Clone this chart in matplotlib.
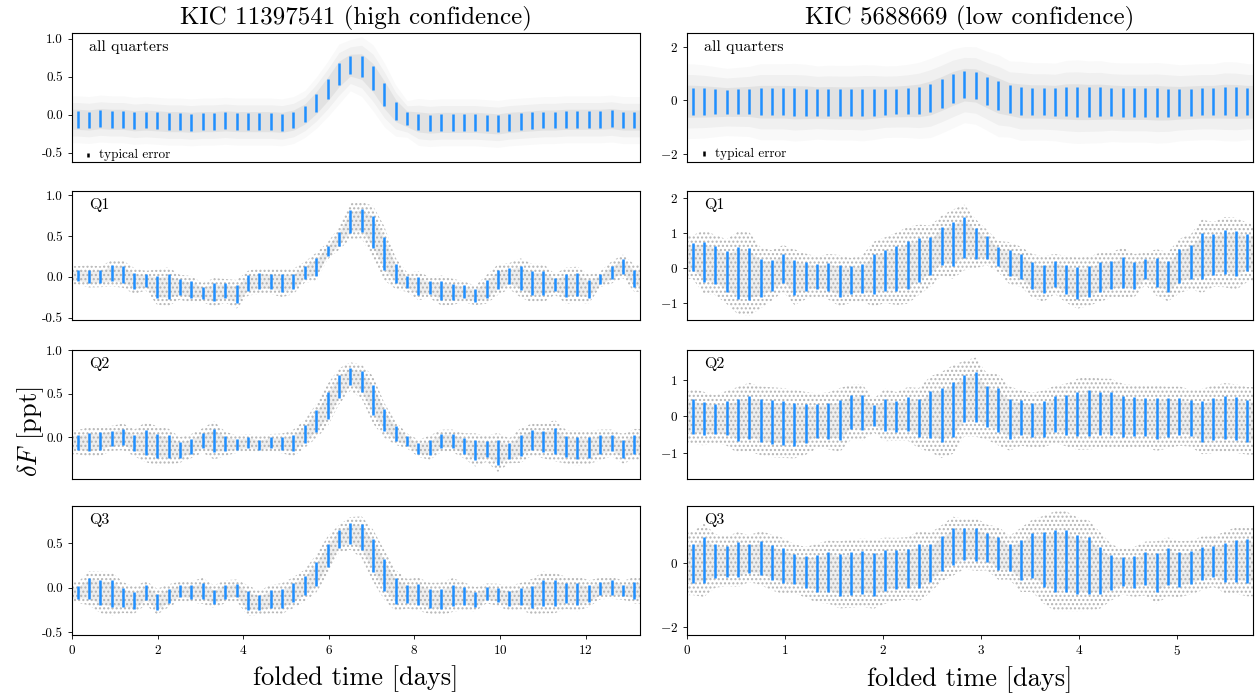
import numpy as np
import matplotlib
matplotlib.use("Agg")
import matplotlib.pyplot as plt

plt.rcParams['font.family'] = 'serif'
plt.rcParams['font.serif'] = ['cmr10', 'DejaVu Serif']
plt.rcParams['mathtext.fontset'] = 'cm'
plt.rcParams['axes.formatter.use_mathtext'] = True
plt.rcParams['hatch.linewidth'] = 1.0

# folding periods [days], 50 phase bins each
period_left = 13.27
period_right = 5.775
nbins = 50

titles = ["KIC 11397541 (high confidence)", "KIC 5688669 (low confidence)"]
row_labels = ["all quarters", "Q1", "Q2", "Q3"]

# ---- KIC 11397541 : bin means and spreads ----
L_all_mean = [-0.06, -0.07, -0.05, -0.06, -0.06, -0.08, -0.07, -0.08, -0.09, -0.09,
              -0.10, -0.09, -0.09, -0.08, -0.09, -0.09, -0.09, -0.09, -0.10, -0.07,
              0.01, 0.156, 0.335, 0.535, 0.65, 0.632, 0.485, 0.26, 0.053, -0.055,
              -0.095, -0.11, -0.10, -0.10, -0.10, -0.10, -0.11, -0.12, -0.10, -0.09,
              -0.08, -0.07, -0.07, -0.06, -0.06, -0.06, -0.06, -0.05, -0.07, -0.07]
L_all_err = [0.11] * 20 + [0.11, 0.12, 0.13, 0.14, 0.12, 0.14, 0.155, 0.15, 0.12, 0.086] + [0.11] * 20

L_q1_mean = [0.018, 0.004, 0.0, 0.043, 0.032, -0.055, -0.047, -0.128, -0.12, -0.128,
             -0.158, -0.194, -0.192, -0.172, -0.215, -0.079, -0.053, -0.057, -0.075, -0.057,
             0.057, 0.119, 0.316, 0.468, 0.68, 0.694, 0.55, 0.287, 0.04, -0.067,
             -0.111, -0.134, -0.168, -0.184, -0.184, -0.229, -0.154, -0.036, 0.008, -0.014,
             -0.079, -0.079, -0.093, -0.109, -0.097, -0.152, -0.032, 0.053, 0.128, -0.016]
L_q1_err = [0.07, 0.085, 0.08, 0.10, 0.105, 0.10, 0.075, 0.135, 0.148, 0.095,
            0.105, 0.073, 0.11, 0.09, 0.11, 0.095, 0.10, 0.097, 0.11, 0.097,
            0.08, 0.11, 0.065, 0.087, 0.138, 0.14, 0.20, 0.206, 0.12, 0.075,
            0.11, 0.08, 0.115, 0.10, 0.08, 0.075, 0.11, 0.117, 0.10, 0.15,
            0.148, 0.148, 0.08, 0.138, 0.138, 0.11, 0.06, 0.085, 0.09, 0.105]

L_q2_mean = [-0.056, -0.056, -0.044, -0.013, 0.004, -0.065, -0.056, -0.098, -0.11, -0.146,
             -0.102, -0.037, -0.037, -0.075, -0.079, -0.062, -0.085, -0.062, -0.071, -0.065,
             0.037, 0.185, 0.367, 0.583, 0.698, 0.64, 0.43, 0.194, 0.044, -0.042,
             -0.127, -0.121, -0.042, -0.042, -0.098, -0.146, -0.133, -0.175, -0.156, -0.094,
             -0.027, -0.046, -0.04, -0.11, -0.123, -0.119, -0.088, -0.065, -0.133, -0.081]
L_q2_err = [0.087, 0.106, 0.106, 0.09, 0.096, 0.096, 0.144, 0.14, 0.13, 0.092,
            0.087, 0.087, 0.137, 0.087, 0.063, 0.062, 0.058, 0.062, 0.071, 0.096,
            0.10, 0.123, 0.152, 0.129, 0.102, 0.121, 0.17, 0.125, 0.083, 0.054,
            0.062, 0.087, 0.081, 0.081, 0.09, 0.119, 0.094, 0.14, 0.09, 0.125,
            0.115, 0.123, 0.148, 0.121, 0.127, 0.119, 0.11, 0.096, 0.106, 0.11]

L_q3_mean = [-0.053, -0.006, -0.051, -0.066, -0.109, -0.14, -0.055, -0.155, -0.089, -0.038,
             -0.045, -0.034, -0.098, -0.043, -0.028, -0.145, -0.168, -0.126, -0.119, -0.053,
             0.028, 0.16, 0.366, 0.551, 0.613, 0.57, 0.364, 0.145, -0.032, -0.066,
             -0.072, -0.117, -0.123, -0.081, -0.091, -0.13, -0.062, -0.079, -0.119, -0.094,
             -0.10, -0.053, -0.058, -0.057, -0.066, -0.064, -0.008, 0.006, -0.028, -0.026]
L_q3_err = [0.072, 0.119, 0.145, 0.153, 0.109, 0.094, 0.085, 0.091, 0.081, 0.068,
            0.075, 0.091, 0.079, 0.081, 0.077, 0.108, 0.085, 0.10, 0.108, 0.109,
            0.111, 0.134, 0.132, 0.098, 0.115, 0.147, 0.183, 0.175, 0.145, 0.104,
            0.117, 0.109, 0.115, 0.119, 0.098, 0.085, 0.07, 0.079, 0.089, 0.094,
            0.126, 0.147, 0.142, 0.113, 0.123, 0.094, 0.075, 0.081, 0.066, 0.094]

# ---- KIC 5688669 : bin means and spreads ----
R_all_mean = [-0.03, -0.04, -0.05, -0.06, -0.05, -0.04, -0.05, -0.05, -0.05, -0.07,
              -0.07, -0.08, -0.08, -0.09, -0.09, -0.09, -0.07, -0.05, -0.04, -0.02,
              0.0, 0.09, 0.26, 0.45, 0.59, 0.56, 0.36, 0.18, 0.05, -0.02,
              -0.04, -0.04, -0.06, -0.04, -0.05, -0.06, -0.05, -0.06, -0.08, -0.08,
              -0.08, -0.09, -0.10, -0.09, -0.07, -0.05, -0.05, -0.03, -0.04, -0.05]
R_all_err = [0.50, 0.49, 0.47, 0.45, 0.46, 0.47, 0.51, 0.51, 0.51, 0.52,
             0.51, 0.49, 0.50, 0.50, 0.50, 0.51, 0.50, 0.48, 0.48, 0.49,
             0.51, 0.53, 0.53, 0.53, 0.51, 0.52, 0.53, 0.55, 0.51, 0.53,
             0.52, 0.52, 0.52, 0.55, 0.56, 0.55, 0.55, 0.53, 0.53, 0.53,
             0.53, 0.54, 0.53, 0.51, 0.51, 0.51, 0.51, 0.53, 0.53, 0.51]

R_q1_mean = [0.31, 0.16, 0.08, -0.11, -0.15, -0.18, -0.29, -0.22, -0.02, -0.27,
             -0.25, -0.25, -0.26, -0.37, -0.36, -0.31, -0.18, -0.07, -0.03, 0.07,
             0.23, 0.33, 0.63, 0.68, 0.87, 0.69, 0.58, 0.32, 0.13, 0.03,
             -0.23, -0.32, -0.18, -0.33, -0.44, -0.39, -0.27, -0.21, -0.14, -0.23,
             -0.03, -0.14, -0.26, 0.05, 0.17, 0.33, 0.38, 0.45, 0.40, 0.44]
R_q1_err = [0.39, 0.57, 0.54, 0.58, 0.74, 0.75, 0.55, 0.45, 0.42, 0.50,
            0.41, 0.36, 0.41, 0.46, 0.40, 0.42, 0.58, 0.59, 0.65, 0.69,
            0.63, 0.55, 0.54, 0.62, 0.59, 0.44, 0.32, 0.28, 0.38, 0.36,
            0.39, 0.41, 0.36, 0.42, 0.46, 0.44, 0.44, 0.41, 0.45, 0.39,
            0.29, 0.42, 0.44, 0.49, 0.49, 0.66, 0.58, 0.63, 0.65, 0.53]

R_q2_mean = [0.0, -0.06, -0.07, -0.05, -0.10, -0.02, -0.12, -0.16, -0.18, -0.21,
             -0.19, -0.12, -0.12, -0.10, 0.12, 0.11, 0.02, 0.04, 0.0, 0.07,
             -0.05, 0.06, 0.04, 0.19, 0.49, 0.53, 0.27, 0.18, -0.06, -0.04,
             -0.10, -0.07, 0.06, 0.04, 0.06, 0.10, 0.08, 0.09, 0.0, 0.0,
             -0.01, -0.05, -0.03, 0.01, -0.05, -0.14, -0.08, -0.03, -0.06, -0.12]
R_q2_err = [0.47, 0.46, 0.41, 0.47, 0.57, 0.59, 0.59, 0.60, 0.60, 0.59,
            0.54, 0.47, 0.49, 0.55, 0.47, 0.48, 0.29, 0.45, 0.42, 0.46,
            0.52, 0.65, 0.74, 0.76, 0.65, 0.68, 0.57, 0.61, 0.55, 0.48,
            0.47, 0.49, 0.49, 0.54, 0.61, 0.63, 0.60, 0.59, 0.56, 0.54,
            0.53, 0.56, 0.53, 0.51, 0.49, 0.56, 0.58, 0.59, 0.59, 0.58]

R_q3_mean = [-0.005, 0.10, 0.08, 0.07, 0.12, 0.15, 0.17, 0.03, -0.08, -0.17,
             -0.28, -0.31, -0.27, -0.36, -0.32, -0.29, -0.34, -0.23, -0.19, -0.15,
             -0.08, 0.02, 0.32, 0.54, 0.61, 0.60, 0.50, 0.32, 0.18, 0.11,
             0.24, 0.12, 0.07, 0.07, -0.03, -0.07, -0.22, -0.28, -0.26, -0.27,
             -0.16, -0.28, -0.11, -0.18, -0.13, 0.0, 0.06, 0.03, 0.09, 0.07]
R_q3_err = [0.62, 0.72, 0.53, 0.49, 0.54, 0.46, 0.53, 0.55, 0.55, 0.48,
            0.50, 0.58, 0.62, 0.66, 0.67, 0.67, 0.68, 0.65, 0.62, 0.61,
            0.69, 0.59, 0.55, 0.58, 0.49, 0.52, 0.45, 0.52, 0.43, 0.63,
            0.71, 0.86, 0.98, 0.98, 0.92, 0.89, 0.75, 0.55, 0.45, 0.49,
            0.53, 0.61, 0.58, 0.55, 0.53, 0.53, 0.50, 0.60, 0.66, 0.69]

left_means = [L_all_mean, L_q1_mean, L_q2_mean, L_q3_mean]
left_errs = [L_all_err, L_q1_err, L_q2_err, L_q3_err]
right_means = [R_all_mean, R_q1_mean, R_q2_mean, R_q3_mean]
right_errs = [R_all_err, R_q1_err, R_q2_err, R_q3_err]

left_ylims = [(-0.62, 1.07), (-0.53, 1.05), (-0.48, 1.0), (-0.53, 0.92)]
right_ylims = [(-2.31, 2.52), (-1.5, 2.2), (-1.72, 1.82), (-2.25, 1.8)]
left_yticks = [[-0.5, 0.0, 0.5, 1.0], [-0.5, 0.0, 0.5, 1.0], [0.0, 0.5, 1.0], [-0.5, 0.0, 0.5]]
right_yticks = [[-2, 0, 2], [-1, 0, 1, 2], [-1, 0, 1], [-2, 0]]

# typical error markers (x [days], y, half length)
typ_left = (0.37, -0.53, 0.027)
typ_right = (0.17, -2.0, 0.1)

fig = plt.figure(figsize=(12.6, 7), dpi=100)

row_bottoms = [0.7686, 0.5429, 0.3157, 0.0929]
row_h = 0.184
col_x = [(0.0571, 0.4508), (0.5452, 0.4492)]

blue = '#1f8fff'
periods = [period_left, period_right]
all_means = [left_means, right_means]
all_errs = [left_errs, right_errs]
all_ylims = [left_ylims, right_ylims]
all_yticks = [left_yticks, right_yticks]
typs = [typ_left, typ_right]

for c in range(2):
    P = periods[c]
    t = (np.arange(nbins) + 0.5) * P / nbins
    tt = np.concatenate([[0], t, [P]])
    for r in range(4):
        ax = fig.add_axes([col_x[c][0], row_bottoms[r], col_x[c][1], row_h])
        m = np.array(all_means[c][r])
        e = np.array(all_errs[c][r])
        mm = np.concatenate([[m[0]], m, [m[-1]]])
        ee = np.concatenate([[e[0]], e, [e[-1]]])
        if r == 0:
            # dense cloud of all points
            ax.fill_between(tt, mm - 2.8 * ee, mm + 2.8 * ee, color='#c8c8c8', alpha=0.10, lw=0)
            ax.fill_between(tt, mm - 2.0 * ee, mm + 2.0 * ee, color='#c8c8c8', alpha=0.18, lw=0)
            ax.fill_between(tt, mm - 1.2 * ee, mm + 1.2 * ee, color='#c0c0c0', alpha=0.28, lw=0)
        else:
            ax.fill_between(tt, mm - 1.6 * ee, mm + 1.6 * ee, facecolor='none',
                            edgecolor='#b4b4b4', hatch='....', lw=0)
            ax.fill_between(tt, mm - 0.9 * ee, mm + 0.9 * ee, color='#9a9a9a', alpha=0.16, lw=0)
        ax.errorbar(t, m, yerr=e, fmt='none', ecolor=blue, elinewidth=1.8, capsize=0, zorder=3)
        ax.set_xlim(0, P)
        ax.set_ylim(*all_ylims[c][r])
        ax.set_yticks(all_yticks[c][r])
        if c == 0:
            ax.yaxis.set_major_formatter(matplotlib.ticker.FormatStrFormatter('%.1f'))
        ax.text(0.03, 0.86, row_labels[r], transform=ax.transAxes, fontsize=11.5)
        ax.tick_params(labelsize=9.5, direction='out', length=3, width=0.6)
        for s in ax.spines.values():
            s.set_linewidth(0.8)
        if r < 3:
            ax.tick_params(axis='x', bottom=False, labelbottom=False)
        else:
            ax.set_xticks(np.arange(0, P, 2 if c == 0 else 1))
            ax.set_xlabel('folded time [days]', fontsize=19, labelpad=6)
        if r == 0:
            ax.set_title(titles[c], fontsize=18, pad=6)
            tx, ty, th = typs[c]
            ax.errorbar([tx], [ty], yerr=[th], fmt='none', ecolor='black', elinewidth=1.8, capsize=0)
            ax.text(tx + P * 0.02, ty, 'typical error', fontsize=9.5, va='center')

fig.text(0.012, 0.383, r'$\delta F$ [ppt]', rotation=90, fontsize=19, va='center', ha='left')

fig.savefig('out.png', dpi=100)
